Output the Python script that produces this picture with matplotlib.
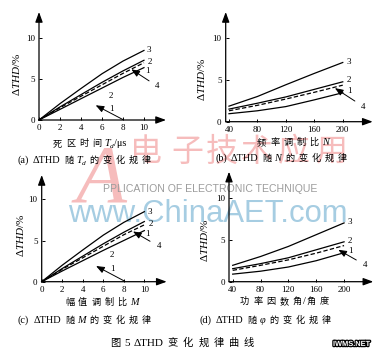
import matplotlib
matplotlib.use('Agg')
import matplotlib.pyplot as plt
from matplotlib.transforms import IdentityTransform
import matplotlib.patheffects as pe

plt.rcParams['mathtext.fontset'] = 'custom'
plt.rcParams['mathtext.rm'] = 'Liberation Serif'
plt.rcParams['mathtext.it'] = 'Liberation Serif:italic'
plt.rcParams['font.family'] = ['Liberation Serif', 'Noto Sans CJK SC']

# ---------------- data ----------------
# (a) dead time Td (us)
a_x = [0, 2, 4, 6, 8, 10]
a_3 = [0, 2.0, 3.85, 5.65, 7.2, 8.5]
a_2 = [0, 1.6, 3.1, 4.6, 6.0, 7.3]
a_4 = [0, 1.5, 2.9, 4.3, 5.7, 7.0]
a_1 = [0, 1.3, 2.6, 3.9, 5.2, 6.4]
# (b) frequency modulation ratio N
b_x = [40, 80, 120, 160, 200]
b_3 = [1.85, 3.0, 4.4, 5.75, 7.05]
b_2 = [1.5, 2.2, 2.95, 3.85, 4.75]
b_4 = [1.3, 1.95, 2.7, 3.5, 4.35]
b_1 = [0.95, 1.3, 1.8, 2.6, 3.45]
# (c) amplitude modulation ratio M
c_x = [0, 2, 4, 6, 8, 10]
c_3 = [0, 2.0, 3.85, 5.65, 7.2, 8.5]
c_2 = [0, 1.6, 3.1, 4.6, 6.0, 7.3]
c_4 = [0, 1.5, 2.9, 4.3, 5.7, 6.9]
c_1 = [0, 1.3, 2.55, 3.8, 5.0, 6.2]
# (d) power factor angle
d_x = [40, 80, 120, 160, 200]
d_3 = [1.95, 3.0, 4.2, 5.6, 7.0]
d_2 = [1.55, 2.15, 2.85, 3.8, 4.75]
d_4 = [1.35, 1.95, 2.6, 3.4, 4.3]
d_1 = [0.9, 1.25, 1.75, 2.5, 3.45]

ac_xticks = [0, 2, 4, 6, 8, 10]
bd_xticks = [40, 80, 120, 160, 200]
yticks = [0, 5, 10]

W, H = 385, 354
fig = plt.figure(figsize=(3.85, 3.54), dpi=100)
R = fig.canvas.get_renderer()
CJK = ['Noto Sans CJK SC', 'DejaVu Sans']
SER = ['Liberation Serif', 'DejaVu Serif']


def ptext(x, y, s, **kw):
    return fig.text(x, H - y, s, transform=IdentityTransform(), **kw)


def wid(t):
    return t.get_window_extent(renderer=R).width


def row(x, y, segs, cs=6.6, ls=7.4, track=4.0, color='black'):
    for s, kind in segs:
        if kind == 'g':
            x += s
            continue
        if kind == 'c':
            for ch in s:
                t = ptext(x, y, ch, family=CJK, size=cs, va='baseline', ha='left', color=color)
                x += wid(t) + track
            x -= track
        elif kind in ('r', 'i'):
            t = ptext(x, y, s, family=SER, style='italic' if kind == 'i' else 'normal',
                      size=ls, va='baseline', ha='left', color=color)
            x += wid(t)
        elif kind == 's':
            t = ptext(x, y + 2, s, family=SER, style='italic', size=ls * 0.72,
                      va='baseline', ha='left', color=color)
            x += wid(t)
    return x


# ---------------- watermarks ----------------
wm_red = '#f6bcbc'
ptext(76, 202, 'A', family=SER, style='italic', size=60, color=wm_red, zorder=-3,
      va='baseline', ha='left')
for ch, cx in zip('电子技术应用', [146, 187, 222, 257, 294, 332]):
    ptext(cx, 152, ch, family=CJK, size=23, color=wm_red, zorder=-3, ha='center', va='center')

t = ptext(103, 192, 'PPLICATION OF ELECTRONIC TECHNIQUE', family=['Liberation Sans'],
          size=10, color='#9c9c9c', zorder=-2, va='baseline', ha='left')
t.set_size(10 * 215 / wid(t))
t = ptext(68, 222, 'www.ChinaAET.com', family=['Liberation Sans'], size=22,
          color='#a6cde2', zorder=-2, va='baseline', ha='left')
t.set_size(22 * 278 / wid(t))


# ---------------- axes ----------------
def make_ax(l, r, tp, b, xlim, ylim, xticks):
    ax = fig.add_axes([l / W, 1 - b / H, (r - l) / W, (b - tp) / H])
    ax.patch.set_visible(False)
    for s in ax.spines.values():
        s.set_visible(False)
    ax.set_xlim(*xlim)
    ax.set_ylim(*ylim)
    ax.set_xticks(xticks)
    ax.set_yticks(yticks)
    ax.tick_params(direction='in', length=2.5, width=0.7, pad=3, labelsize=6.5)
    for lab in ax.get_xticklabels() + ax.get_yticklabels():
        lab.set_family(SER)
    ap = dict(arrowstyle='-|>,head_length=0.6,head_width=0.22', lw=0.9, color='k',
              shrinkA=0, shrinkB=0, mutation_scale=10)
    ax.annotate('', xy=(1, 0), xytext=(0, 0), xycoords='axes fraction', arrowprops=ap,
                annotation_clip=False)
    ax.annotate('', xy=(0, 1), xytext=(0, 0), xycoords='axes fraction', arrowprops=ap,
                annotation_clip=False)
    return ax


def curves(ax, x, l3, l2, l4, l1):
    kw = dict(color='k', lw=0.9, clip_on=False)
    ax.plot(x, l3, **kw)
    ax.plot(x, l2, **kw)
    ax.plot(x, l4, ls=(0, (3.5, 1.8)), **kw)
    ax.plot(x, l1, **kw)


def lab(ax, s, x, y):
    ax.text(x, y, s, family=SER, size=6.5, ha='center', va='center', clip_on=False)


def arrow4(ax, tip, lp):
    ax.annotate('4', xy=tip, xytext=lp, family=SER, size=6.5, ha='center', va='center',
                arrowprops=dict(arrowstyle='-|>,head_length=0.55,head_width=0.22', lw=0.7,
                                color='k', shrinkA=3, shrinkB=0, mutation_scale=9),
                annotation_clip=False)


def arrow1(ax, tip, tail):
    ax.annotate('', xy=tip, xytext=tail,
                arrowprops=dict(arrowstyle='-|>,head_length=0.55,head_width=0.22', lw=0.7,
                                color='k', shrinkA=0, shrinkB=0, mutation_scale=9),
                annotation_clip=False)


# (a)
ax = make_ax(39, 166, 12, 120, (0, 12.1), (0, 13.2), ac_xticks)
curves(ax, a_x, a_3, a_2, a_4, a_1)
lab(ax, '3', 10.5, 8.6); lab(ax, '2', 10.6, 7.1); lab(ax, '1', 10.35, 6.0)
arrow4(ax, (8.8, 6.2), (11.3, 4.1))
lab(ax, '2', 6.8, 2.9); lab(ax, '1', 6.9, 1.4)
arrow1(ax, (5.4, 1.8), (8.0, 0.05))

# (b)
ax = make_ax(225.7, 372.7, 12, 121.7, (35.4, 242.1), (0, 13.06), bd_xticks)
curves(ax, b_x, b_3, b_2, b_4, b_1)
lab(ax, '3', 208, 7.1); lab(ax, '2', 209, 5.0); lab(ax, '1', 210, 3.6)
arrow4(ax, (189, 4.0), (229, 1.8))

# (c)
ax = make_ax(41.7, 166.7, 175, 281.7, (0, 12.18), (0, 12.95), ac_xticks)
curves(ax, c_x, c_3, c_2, c_4, c_1)
lab(ax, '3', 10.5, 8.5); lab(ax, '2', 10.6, 7.0); lab(ax, '1', 10.3, 5.8)
arrow4(ax, (8.9, 6.1), (11.4, 4.3))
lab(ax, '2', 6.8, 3.2); lab(ax, '1', 6.9, 1.55)
arrow1(ax, (5.3, 1.9), (8.1, 0.05))

# (d)
ax = make_ax(229, 373.3, 171.7, 281.7, (34.7, 242), (0, 13.1), bd_xticks)
curves(ax, d_x, d_3, d_2, d_4, d_1)
lab(ax, '3', 207.5, 7.07); lab(ax, '2', 208.5, 4.85); lab(ax, '1', 209.5, 3.6)
arrow4(ax, (191.7, 3.8), (230, 2.0))

# ---------------- y labels ----------------
ylab = r'$\Delta \mathit{THD}/\%$'
for (x, y) in [(16, 74), (201.7, 79), (21, 235), (204, 240)]:
    ptext(x, y, ylab, size=8, rotation=90, ha='center', va='center')

# ---------------- x labels & captions ----------------
row(53, 146, [('死区时间', 'c'), (3, 'g'), ('T', 'i'), ('d', 's'), ('/μs', 'r')])
row(17, 163, [('(a)', 'r'), (4, 'g'), ('ΔTHD', 'r'), (4, 'g'), ('随', 'c'), (3, 'g'),
              ('T', 'i'), ('d', 's'), (4, 'g'), ('的变化规律', 'c')])
row(257, 145, [('频率调制比', 'c'), (3, 'g'), ('N', 'i')])
row(215, 161, [('(b)', 'r'), (4, 'g'), ('ΔTHD', 'r'), (4, 'g'), ('随', 'c'), (3, 'g'),
               ('N', 'i'), (4, 'g'), ('的变化规律', 'c')])
row(65, 305, [('幅值调制比', 'c'), (3, 'g'), ('M', 'i')])
row(18, 323, [('(c)', 'r'), (4, 'g'), ('ΔTHD', 'r'), (4, 'g'), ('随', 'c'), (3, 'g'),
              ('M', 'i'), (4, 'g'), ('的变化规律', 'c')])
row(240, 304, [('功率因数角', 'c'), (1, 'g'), ('/', 'r'), (1, 'g'), ('角度', 'c')])
row(200, 323, [('(d)', 'r'), (4, 'g'), ('ΔTHD', 'r'), (4, 'g'), ('随', 'c'), (3, 'g'),
               ('φ', 'i'), (4, 'g'), ('的变化规律', 'c')])
row(110, 346, [('图', 'c'), (4, 'g'), ('5', 'r'), (4, 'g'), ('ΔTHD', 'r'), (4, 'g'),
               ('变化规律曲线', 'c')], cs=7.4, ls=8.0, track=5.0)

t = ptext(333, 346, 'IWMS.NET', family=['Liberation Sans'], weight='bold', size=6.5,
          color='white', va='baseline', ha='left',
          path_effects=[pe.withStroke(linewidth=1.8, foreground='black')])
t.set_size(6.5 * 37 / wid(t))

fig.savefig('out.png', dpi=100)
